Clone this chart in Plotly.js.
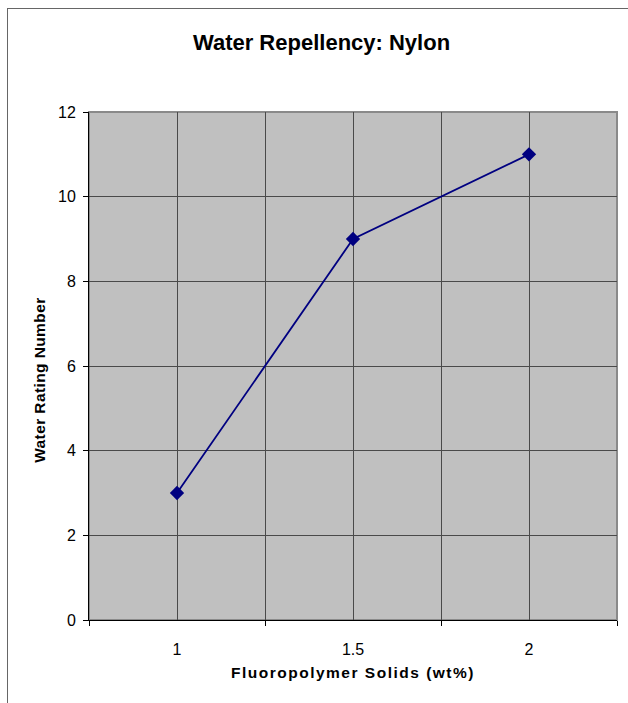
<!DOCTYPE html>
<html>
<head>
<meta charset="utf-8">
<script src="https://cdn.plot.ly/plotly-3.0.1.min.js"></script>
<style>
  html, body { margin: 0; padding: 0; background: #fff; }
  #wrap { position: relative; width: 628px; height: 703px; overflow: hidden; }
  #chart { width: 628px; height: 703px; }
  #frame { position: absolute; left: 7px; top: 8px; width: 700px; height: 800px;
           border-left: 1px solid #666; border-top: 1px solid #666; pointer-events: none; }
  .xtitle { letter-spacing: 1.5px; }
  .ytitle { letter-spacing: 0.4px; }
</style>
</head>
<body>
<div id="wrap">
  <div id="chart"></div>
  <div id="frame"></div>
</div>
<script>
const solids = [1, 1.5, 2];
const waterRating = [3, 9, 11];
const xTickLabels = ['1', '1.5', '2'];
const categoryBounds = [0.75, 1.25, 1.75, 2.25];

const trace = {
  x: solids,
  y: waterRating,
  type: 'scatter',
  mode: 'lines+markers',
  line: { color: '#000080', width: 1.8 },
  marker: { symbol: 'diamond', size: 11, color: '#000080' },
  hoverinfo: 'x+y'
};

const layout = {
  width: 628,
  height: 703,
  margin: { l: 89, r: 11, t: 112, b: 83 },
  paper_bgcolor: '#ffffff',
  plot_bgcolor: '#c0c0c0',
  showlegend: false,
  font: { family: 'Liberation Sans, Arial, sans-serif', color: '#000' },
  title: {
    text: '<b>Water Repellency: Nylon</b>',
    font: { size: 22, family: 'Liberation Sans, Arial, sans-serif', color: '#000' },
    x: 0.512, xanchor: 'center', xref: 'container',
    y: 1 - 42 / 703, yanchor: 'middle', yref: 'container'
  },
  xaxis: {
    range: [0.75, 2.25],
    tickmode: 'array',
    tickvals: solids,
    ticktext: xTickLabels,
    ticks: '',
    ticklabelstandoff: 15,
    tickfont: { size: 16 },
    showgrid: true,
    gridcolor: '#4a4a4a',
    gridwidth: 1,
    showline: true,
    linecolor: '#000',
    linewidth: 1,
    zeroline: false,
    minor: {
      tickmode: 'array',
      tickvals: categoryBounds,
      ticks: 'outside',
      ticklen: 5,
      tickcolor: '#000',
      showgrid: true,
      gridcolor: '#4a4a4a',
      gridwidth: 1
    },
    title: {
      text: '<b>Fluoropolymer Solids (wt%)</b>',
      font: { size: 15.5 },
      standoff: 9
    },
    fixedrange: true
  },
  yaxis: {
    range: [0, 12],
    dtick: 2,
    ticks: 'outside',
    ticklen: 5,
    tickcolor: '#000',
    tickfont: { size: 16 },
    ticklabelstandoff: 4,
    showgrid: true,
    gridcolor: '#4a4a4a',
    gridwidth: 1,
    showline: true,
    linecolor: '#000',
    linewidth: 1,
    zeroline: false,
    title: {
      text: '<b>Water Rating Number</b>&nbsp;&nbsp;&nbsp;&nbsp;&nbsp;&nbsp;',
      font: { size: 15.5 },
      standoff: 8
    },
    fixedrange: true
  },
  shapes: [{
    type: 'rect', xref: 'paper', yref: 'paper',
    x0: 0, x1: 1, y0: 0, y1: 1,
    line: { color: '#8a8a8a', width: 2 },
    layer: 'below'
  }]
};

Plotly.newPlot('chart', [trace], layout, { displayModeBar: false, staticPlot: true });
</script>
</body>
</html>
